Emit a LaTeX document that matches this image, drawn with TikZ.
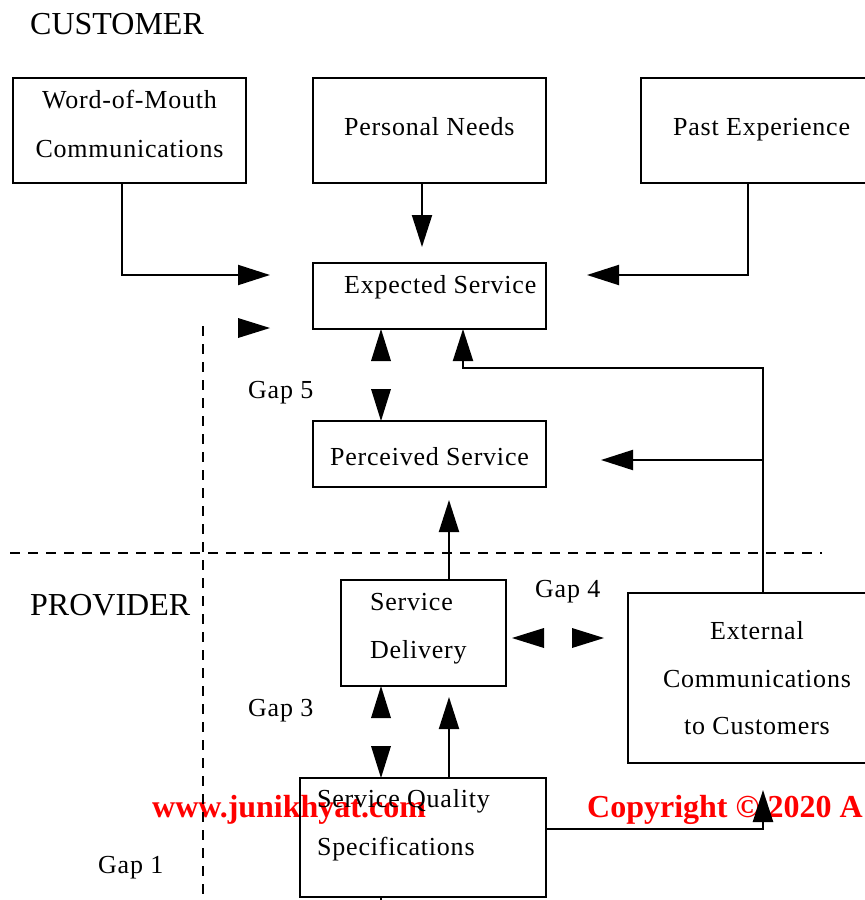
\documentclass[tikz,border=0pt]{standalone}
\usepackage{fontspec}
\setmainfont{Liberation Serif}
\newfontfamily\diafont[LetterSpace=3]{Liberation Serif}
\usetikzlibrary{arrows.meta}

\tikzset{
  head/.pic={\fill (0,0) -- (-32,-10) -- (-32,10) -- cycle;},
}

\begin{document}
\begin{tikzpicture}[x=1pt,y=-1pt,
  box/.style={draw, line width=2pt, anchor=north west, inner sep=0pt, outer sep=0pt},
  lbl/.style={font=\diafont\fontsize{26}{30}\selectfont, inner sep=0pt, anchor=base west},
  clbl/.style={lbl, anchor=base},
  side/.style={font=\fontsize{32}{36}\selectfont, inner sep=0pt, anchor=base west},
  wm/.style={font=\bfseries\fontsize{32}{36}\selectfont, text=red, inner sep=0pt, anchor=base west},
  arr/.style={line width=2pt, -{Triangle[length=32pt,width=20pt]}},
  link/.style={line width=2pt},
  divider/.style={line width=1.2pt, dash pattern=on 10pt off 8pt},
]
\useasboundingbox (0,0) rectangle (865,900);
\clip (0,0) rectangle (865,900);

% watermark lies beneath the drawing
\node[wm] (wm1) at (152,817) {www.junikhyat.com};
\node[wm] (wm2) at (587,817) {Copyright © 2020 A};

% side captions
\node[side] (cust) at (30,34) {CUSTOMER};
\node[side] (prov) at (30,615) {PROVIDER};

% boxes
\node[box, minimum width=233, minimum height=105] (wom)  at (13,78)  {};
\node[box, minimum width=233, minimum height=105] (need) at (313,78) {};
\node[box, minimum width=260, minimum height=105] (past) at (641,78) {};
\node[box, minimum width=233, minimum height=66]  (exp)  at (313,263) {};
\node[box, minimum width=233, minimum height=66]  (perc) at (313,421) {};
\node[box, minimum width=165, minimum height=106] (del)  at (341,580) {};
\node[box, minimum width=260, minimum height=170] (ext)  at (628,593) {};
\node[box, minimum width=246, minimum height=119] (sqs)  at (300,778) {};

% box texts
\node[clbl] (wom1) at (129.5,108) {Word-of-Mouth};
\node[clbl] (wom2) at (129.5,157) {Communications};
\node[lbl] (needt) at (344,135) {Personal Needs};
\node[lbl] (pastt) at (673,135) {Past Experience};
\node[lbl] (expt) at (344,293) {Expected Service};
\node[lbl] (perct) at (330,465) {Perceived Service};
\node[lbl] (del1) at (370,610) {Service};
\node[lbl] (del2) at (370,658) {Delivery};
\node[clbl] (ext1) at (757,639) {External};
\node[clbl] (ext2) at (757,687) {Communications};
\node[clbl] (ext3) at (757,734) {to Customers};
\node[lbl] (sqs1) at (317,807) {Service Quality};
\node[lbl] (sqs2) at (317,855) {Specifications};

% gap labels
\node[lbl] (g5) at (248,398) {Gap 5};
\node[lbl] (g4) at (535,597) {Gap 4};
\node[lbl] (g3) at (248,716) {Gap 3};
\node[lbl] (g1) at (98,873) {Gap 1};

% dividing lines
\draw[divider] (10,553) -- (822,553);
\draw[divider] (203,326) -- (203,905);

% customer side inputs
\coordinate (wtip) at (270,275);
\coordinate (ptip) at (587,275);
\coordinate (ntip) at (422,247);
\draw[arr] (422,0 |- need.south) -- (ntip);
\draw[arr] (122,0 |- wom.south) |- (wtip);
\draw[arr] (748,0 |- past.south) |- (ptip);
\pic at (270,328) {head};

% gap 5
\pic[rotate=90]  at (381,0 |- exp.south)  {head};
\pic[rotate=-90] at (381,0 |- perc.north) {head};

% external communications feed back
\coordinate (j1) at (763,460);
\coordinate (etip) at (601,460);
\draw[arr] (763,0 |- ext.north) -- (763,368) -| (463,0 |- exp.south);
\draw[arr] (j1) -- (etip);

% delivery to perception
\coordinate (dtip) at (449,500);
\draw[arr] (449,0 |- del.north) -- (dtip);

% gap 4
\pic[rotate=180] at (512,638) {head};
\pic at (604,638) {head};

% gap 3
\pic[rotate=90]  at (381,0 |- del.south) {head};
\pic[rotate=-90] at (381,0 |- sqs.north) {head};

% specifications to delivery and communications
\coordinate (stip) at (449,697);
\coordinate (ctip) at (763,790);
\draw[arr] (449,0 |- sqs.north) -- (stip);
\draw[arr, line width=2.5pt] (sqs.east |- 0,829) -| (ctip);
\draw[link] (381,0 |- sqs.south) -- (381,905);
\end{tikzpicture}
\end{document}
